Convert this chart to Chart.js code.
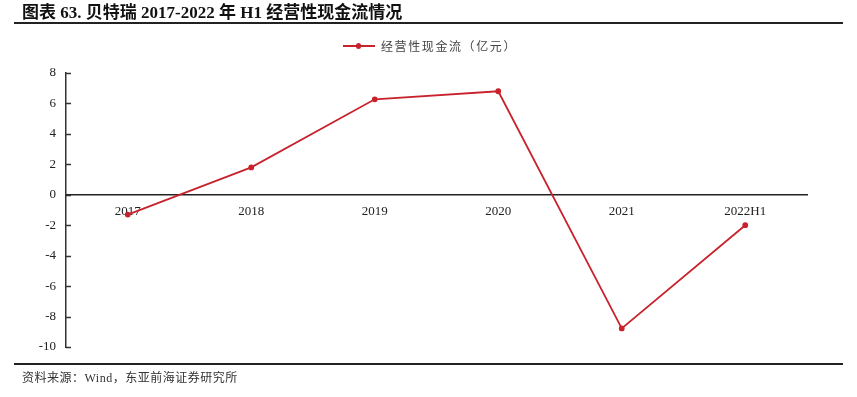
<!DOCTYPE html>
<html><head><meta charset="utf-8">
<script src="https://cdn.jsdelivr.net/npm/chart.js@4"></script>
<style>
html,body{margin:0;padding:0;background:#fff;}
#wrap{position:relative;width:857px;height:397px;overflow:hidden;}
#c{position:absolute;left:0;top:0;}
#title{position:absolute;left:22px;top:-2px;font:bold 17px "Liberation Serif","Noto Sans CJK SC";color:#111;white-space:nowrap;}
#tline{position:absolute;left:14px;top:22px;width:829px;height:2px;background:#222;}
#fline{position:absolute;left:14px;top:363px;width:829px;height:2px;background:#222;}
#foot{position:absolute;left:22px;top:368px;font:12px "Liberation Serif","Noto Sans CJK SC";color:#333;white-space:nowrap;letter-spacing:0.5px;}
#legend{position:absolute;left:343px;top:37px;font:12px "Noto Sans CJK SC";color:#444;white-space:nowrap;display:flex;align-items:center;letter-spacing:1.6px;}
#legend .ln{position:relative;width:32px;height:2px;background:#C8232C;margin-right:6px;}
#legend .ln i{position:absolute;left:13px;top:-2px;width:5px;height:6px;border-radius:3px;background:#C8232C;}
</style></head>
<body><div id="wrap">
<canvas id="c" width="857" height="397"></canvas>
<div id="title">图表 63. 贝特瑞 2017-2022 年 H1 经营性现金流情况</div>
<div id="tline"></div>
<div id="legend"><span class="ln"><i></i></span>经营性现金流（亿元）</div>
<div id="fline"></div>
<div id="foot">资料来源：Wind，东亚前海证券研究所</div>
</div>
<script>
const categories = ["2017","2018","2019","2020","2021","2022H1"];
const cashFlow = [-1.3, 1.8, 6.27, 6.8, -8.78, -2.0];
const seriesName = "经营性现金流（亿元）";
const yTicks = [8,6,4,2,0,-2,-4,-6,-8,-10];

const innerTicks = {
  id:'innerTicks',
  afterDraw(chart){
    const y = chart.scales.y, ctx = chart.ctx;
    const x0 = chart.chartArea.left;
    ctx.save();
    ctx.strokeStyle = '#333'; ctx.lineWidth = 1.5;
    yTicks.forEach(v=>{
      const py = Math.round(y.getPixelForValue(v))+0.5;
      ctx.beginPath(); ctx.moveTo(x0, py); ctx.lineTo(x0+5, py); ctx.stroke();
    });
    ctx.restore();
  }
};

new Chart(document.getElementById('c'), {
  type:'line',
  data:{labels:categories, datasets:[{label:seriesName,data:cashFlow,borderColor:'#C8232C',backgroundColor:'#C8232C',borderWidth:1.8,pointRadius:2,pointHoverRadius:2,tension:0}]},
  options:{
    responsive:false, animation:false, devicePixelRatio:1,
    layout:{padding:{left:0,top:73,right:50,bottom:50}},
    plugins:{legend:{display:false},tooltip:{enabled:false}},
    scales:{
      x:{type:'category',offset:true,position:{y:0},
        grid:{display:false,drawTicks:false},
        border:{display:true,color:'#222',width:1.5},
        ticks:{padding:9,color:'#222',font:{family:'Liberation Serif',size:13}}},
      y:{min:-10,max:8,
        afterFit(s){s.width=66;},
        afterBuildTicks(s){s.ticks = yTicks.map(v=>({value:v}));},
        grid:{display:false,drawTicks:false},
        border:{display:true,color:'#333',width:1.5},
        ticks:{padding:10,color:'#222',font:{family:'Liberation Serif',size:13}}}
    }
  },
  plugins:[innerTicks]
});
</script>
</body></html>
